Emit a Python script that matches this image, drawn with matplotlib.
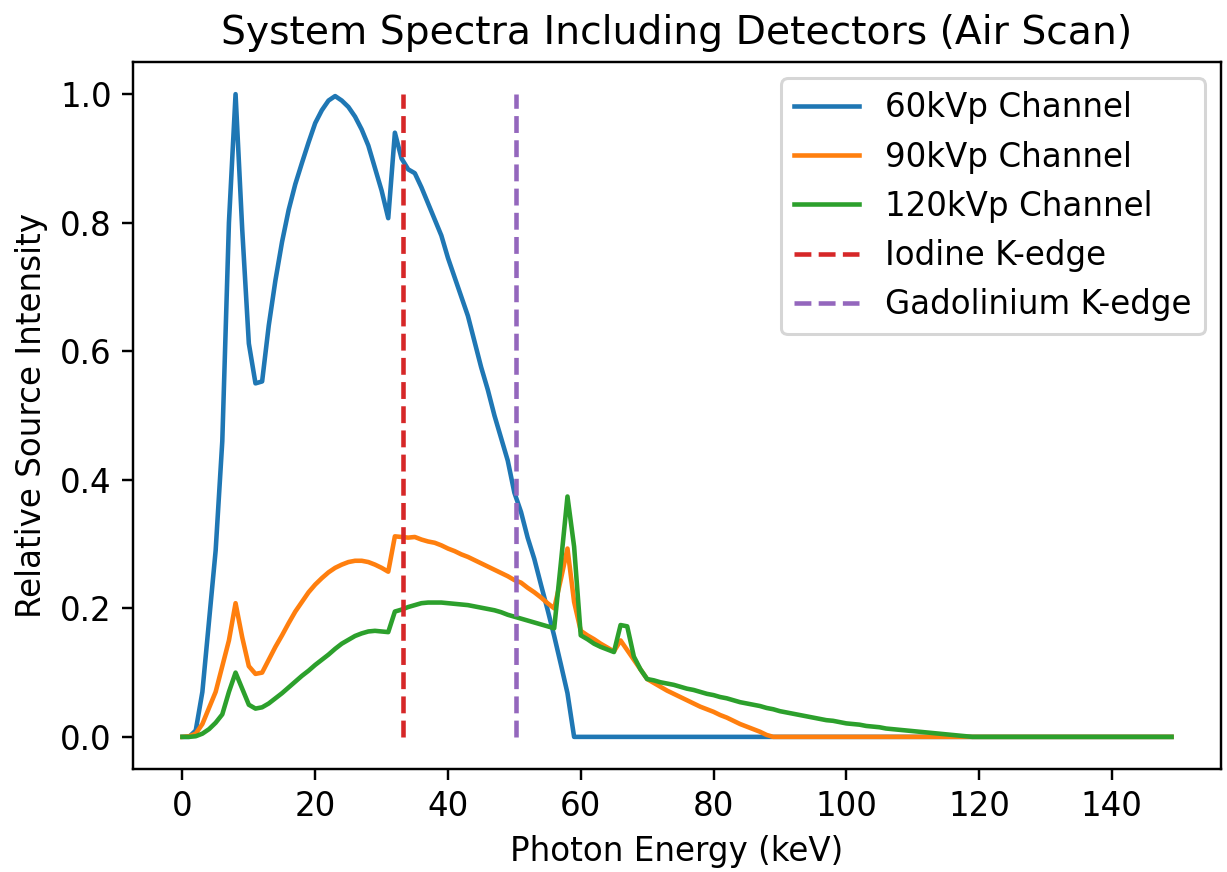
import matplotlib
matplotlib.use("Agg")
import matplotlib.pyplot as plt

# spectra sampled at 1 keV, last point carries the flat zero tail out to 149 keV
energy_60 = list(range(0, 60)) + [149]
intensity_60 = [0.0, 0.0, 0.01, 0.07, 0.18, 0.29, 0.46, 0.80, 1.0, 0.79,
                0.612, 0.55, 0.553, 0.64, 0.71, 0.77, 0.82, 0.86, 0.893, 0.925,
                0.955, 0.975, 0.99, 0.997, 0.99, 0.98, 0.965, 0.945, 0.92, 0.885,
                0.85, 0.807, 0.94, 0.90, 0.883, 0.877, 0.855, 0.83, 0.805, 0.78,
                0.745, 0.715, 0.685, 0.655, 0.615, 0.575, 0.54, 0.50, 0.465, 0.43,
                0.38, 0.35, 0.31, 0.277, 0.237, 0.198, 0.157, 0.113, 0.068, 0.0,
                0.0]

energy_90 = list(range(0, 90)) + [149]
intensity_90 = [0.0, 0.001, 0.005, 0.02, 0.045, 0.07, 0.11, 0.15, 0.208, 0.155,
                0.11, 0.098, 0.10, 0.12, 0.14, 0.158, 0.177, 0.195, 0.21, 0.225,
                0.237, 0.247, 0.256, 0.263, 0.268, 0.272, 0.274, 0.274, 0.272, 0.268,
                0.263, 0.257, 0.312, 0.311, 0.31, 0.311, 0.307, 0.304, 0.302, 0.298,
                0.293, 0.289, 0.284, 0.28, 0.275, 0.27, 0.265, 0.26, 0.255, 0.25,
                0.244, 0.24, 0.232, 0.225, 0.217, 0.208, 0.20, 0.245, 0.293, 0.21,
                0.165, 0.158, 0.152, 0.145, 0.139, 0.133, 0.15, 0.135, 0.12, 0.105,
                0.09, 0.084, 0.078, 0.072, 0.067, 0.062, 0.057, 0.052, 0.047, 0.043,
                0.039, 0.034, 0.03, 0.025, 0.02, 0.016, 0.012, 0.008, 0.003, 0.0,
                0.0]

energy_120 = list(range(0, 120)) + [149]
intensity_120 = [0.0, 0.0, 0.001, 0.005, 0.012, 0.022, 0.035, 0.07, 0.10, 0.075,
                 0.05, 0.044, 0.046, 0.052, 0.06, 0.068, 0.077, 0.086, 0.095, 0.103,
                 0.112, 0.12, 0.128, 0.137, 0.145, 0.151, 0.157, 0.161, 0.164, 0.165,
                 0.164, 0.163, 0.195, 0.198, 0.202, 0.205, 0.208, 0.209, 0.209, 0.209,
                 0.208, 0.207, 0.206, 0.205, 0.203, 0.201, 0.199, 0.197, 0.194, 0.19,
                 0.187, 0.184, 0.181, 0.178, 0.175, 0.172, 0.169, 0.27, 0.374, 0.296,
                 0.158, 0.152, 0.145, 0.14, 0.136, 0.132, 0.174, 0.172, 0.125, 0.105,
                 0.09, 0.088, 0.085, 0.083, 0.081, 0.078, 0.075, 0.073, 0.07, 0.067,
                 0.065, 0.062, 0.06, 0.057, 0.054, 0.052, 0.05, 0.048, 0.045, 0.043,
                 0.04, 0.038, 0.036, 0.034, 0.032, 0.03, 0.028, 0.026, 0.025, 0.023,
                 0.021, 0.02, 0.019, 0.017, 0.016, 0.015, 0.013, 0.012, 0.011, 0.01,
                 0.009, 0.008, 0.007, 0.006, 0.005, 0.004, 0.003, 0.002, 0.001, 0.0,
                 0.0]

iodine_kedge = 33.17
gadolinium_kedge = 50.24

plt.rcParams["font.size"] = 10.7

fig = plt.figure(figsize=(1227 / 219, 872 / 219), dpi=219)
ax = fig.add_axes([0.1084, 0.1181, 0.8867, 0.8108])

ax.plot(energy_60, intensity_60, label="60kVp Channel")
ax.plot(energy_90, intensity_90, label="90kVp Channel")
ax.plot(energy_120, intensity_120, label="120kVp Channel")
ax.vlines(iodine_kedge, 0, 1, colors="C3", linestyles="--", label="Iodine K-edge")
ax.vlines(gadolinium_kedge, 0, 1, colors="C4", linestyles="--", label="Gadolinium K-edge")

ax.set_title("System Spectra Including Detectors (Air Scan)", fontsize=12.9)
ax.set_xlabel("Photon Energy (keV)")
ax.set_ylabel("Relative Source Intensity")
ax.legend(loc="upper right")

fig.savefig("out.png", dpi=219)
